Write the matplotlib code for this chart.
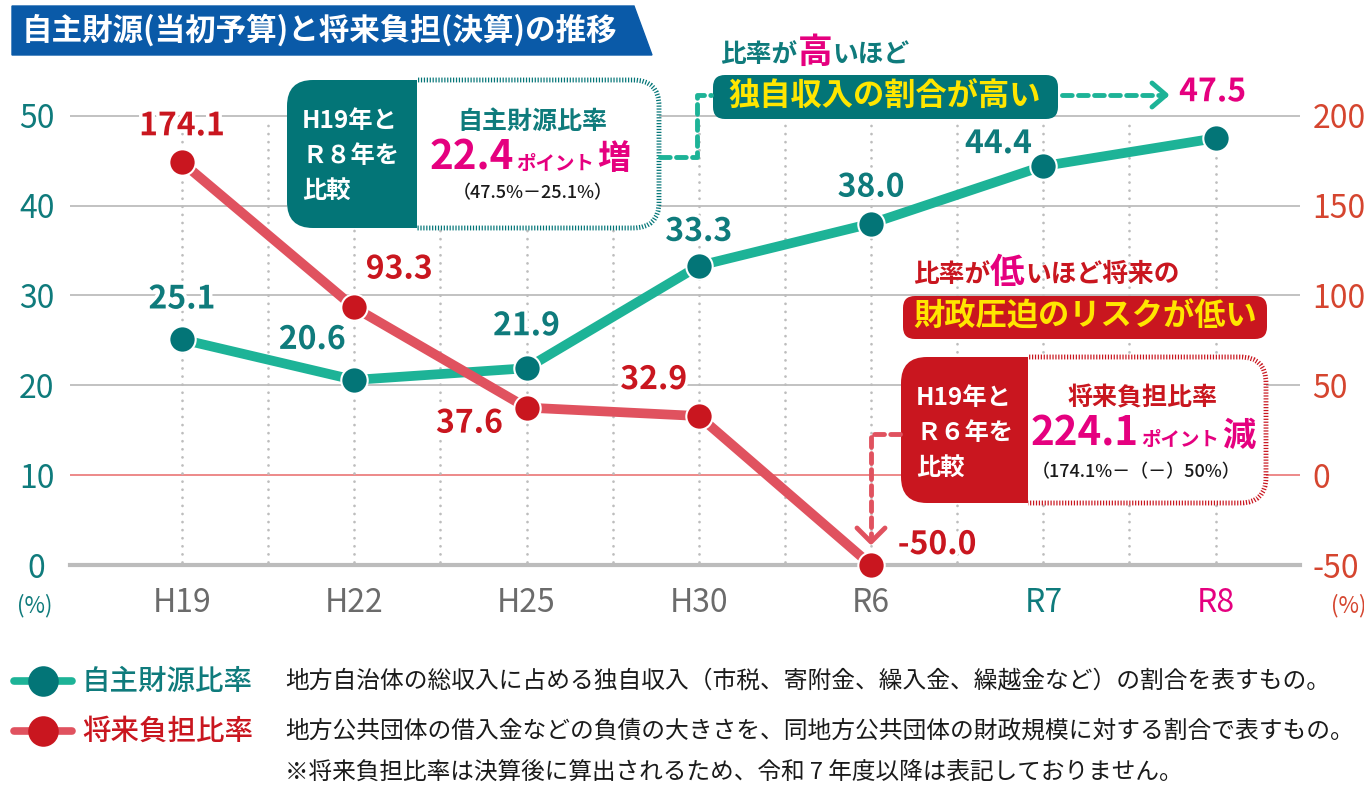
import matplotlib.pyplot as plt
import matplotlib.patheffects as pe
from matplotlib.patches import FancyBboxPatch, Rectangle, Polygon
from matplotlib.offsetbox import TextArea, HPacker, AnnotationBbox
import numpy as np

plt.rcParams['font.family'] = ['Noto Sans CJK JP', 'DejaVu Sans']

# data
years = ['H19', 'H22', 'H25', 'H30', 'R6', 'R7', 'R8']
own_ratio = [25.1, 20.6, 21.9, 33.3, 38.0, 44.4, 47.5]
burden_years = ['H19', 'H22', 'H25', 'H30', 'R6']
burden_ratio = [174.1, 93.3, 37.6, 32.9, -50.0]
left_ticks = [0, 10, 20, 30, 40, 50]
right_ticks = [-50, 0, 50, 100, 150, 200]

title = '自主財源(当初予算)と将来負担(決算)の推移'
legend_names = ['自主財源比率', '将来負担比率']
legend_notes = [
    '地方自治体の総収入に占める独自収入（市税、寄附金、繰入金、繰越金など）の割合を表すもの。',
    '地方公共団体の借入金などの負債の大きさを、同地方公共団体の財政規模に対する割合で表すもの。',
]
footnote = '※将来負担比率は決算後に算出されるため、令和 7 年度以降は表記しておりません。'

# colours
TEAL = '#037577'
TEAL_LINE = '#1db397'
TEAL_TXT = '#0f7b7c'
RED = '#c9161f'
RED_LINE = '#e0525f'
RED_TICK = '#d5452f'
MAGENTA = '#e5007f'
YELLOW = '#ffe600'
GRAY = '#bdbdbd'

# label offsets in pixels (style only)
own_offsets = [(0, 40), (-42, 40), (0, 42), (0, 34), (0, 36), (-45, 22), (-3, 46)]
burden_offsets = [(0, 36), (45, 38), (-57, -16), (-45, 36), (66, 20)]

W, H = 1364, 785
fig = plt.figure(figsize=(W / 100, H / 100), dpi=100)

ax = fig.add_axes([70 / W, 1 - 565 / H, 1230 / W, 469 / H])
ymax = 52.2
ax.set_ylim(0, ymax)
ax.set_xlim(-0.65, 6.49)
for s in ax.spines.values():
    s.set_visible(False)

xi = np.arange(len(years))
xb = np.array([years.index(y) for y in burden_years])

# grid
for t in left_ticks[1:]:
    ax.axhline(t, color='#ec8080' if t == 10 else GRAY, lw=1.3, zorder=1)
ax.axhline(0, color='#bcbcbc', lw=3, zorder=1, clip_on=False)
for xv in np.arange(0, len(years) - 0.99, 0.5):
    ax.plot([xv, xv], [0.3, 49.3], color=GRAY, lw=2,
            ls=(0, (0.01, 2.9)), dash_capstyle='round', zorder=1)

ax.plot(xi, own_ratio, color=TEAL_LINE, lw=7, zorder=3)
ax.plot(xi, own_ratio, 'o', ms=19, mfc=TEAL, mec='white', mew=1.5,
        zorder=4, clip_on=False)

ax.set_yticks(left_ticks)
ax.tick_params(axis='y', length=0, pad=24, labelsize=23, labelcolor=TEAL_TXT)
for lab in ax.get_yticklabels():
    lab.set_horizontalalignment('center')
ax.set_xticks(xi, years)
ax.tick_params(axis='x', length=0, pad=16, labelsize=23, labelcolor='#6b6b6b')
xl = ax.get_xticklabels()
xl[-2].set_color(TEAL_TXT)
xl[-1].set_color(MAGENTA)

stroke = [pe.withStroke(linewidth=5, foreground='white')]
for i, v in enumerate(own_ratio):
    c = MAGENTA if i == len(own_ratio) - 1 else TEAL_TXT
    ax.annotate(f'{v:.1f}', (xi[i], v), xytext=own_offsets[i],
                textcoords='offset pixels', ha='center', va='center',
                fontsize=23, weight='bold', color=c, path_effects=stroke,
                zorder=5)

ax2 = ax.twinx()
ax2.set_ylim(5 * 0 - 50, 5 * ymax - 50)
for s in ax2.spines.values():
    s.set_visible(False)
ax2.plot(xb, burden_ratio, color=RED_LINE, lw=7, zorder=3)
ax2.plot(xb, burden_ratio, 'o', ms=19, mfc=RED, mec='white', mew=1.5,
         zorder=4, clip_on=False)
ax2.set_yticks(right_ticks, [str(t) for t in right_ticks])
ax2.tick_params(axis='y', length=0, pad=9, labelsize=23, labelcolor=RED_TICK)
for i, v in enumerate(burden_ratio):
    ax2.annotate(f'{v:.1f}', (xb[i], v), xytext=burden_offsets[i],
                 textcoords='offset pixels', ha='center', va='center',
                 fontsize=23, weight='bold', color=RED, path_effects=stroke,
                 zorder=5)

# overlay in pixel coordinates for decorations
ov = fig.add_axes([0, 0, 1, 1])
ov.set_xlim(0, W)
ov.set_ylim(H, 0)
ov.axis('off')

ov.text(35, 606, '(%)', color=TEAL_TXT, fontsize=16, ha='center', va='center')
ov.text(1349, 606, '(%)', color=RED_TICK, fontsize=16, ha='center', va='center')

ov.add_patch(Polygon([(12, 6), (634, 6), (652, 55), (12, 55)], color='#0a5aa8'))
ov.text(22, 30, title, color='white', fontsize=22, weight='bold', va='center')


def rich(parts, xy, sep=2):
    boxes = [TextArea(s, textprops=dict(color=c, fontsize=fs, weight='bold'))
             for s, c, fs in parts]
    pack = HPacker(children=boxes, align='baseline', pad=0, sep=sep)
    ab = AnnotationBbox(pack, xy, xycoords='data', frameon=False,
                        box_alignment=(0.5, 0.5), pad=0)
    ov.add_artist(ab)


def compare_box(x0, y0, w, h, split, color, lines):
    style = 'round,pad=0,rounding_size=26'
    ov.add_patch(FancyBboxPatch((x0, y0), w, h, boxstyle=style,
                                fc='white', ec='none'))
    left = FancyBboxPatch((x0, y0), w, h, boxstyle=style, fc=color, ec='none')
    ov.add_patch(left)
    left.set_clip_path(Rectangle((x0, y0), split - x0, h, transform=ov.transData))
    edge = FancyBboxPatch((x0, y0), w, h, boxstyle=style, fc='none', ec=color,
                          lw=3.5, ls=(0, (0.25, 0.35)))
    ov.add_patch(edge)
    edge.set_clip_path(Rectangle((split, y0 - 10), w, h + 20, transform=ov.transData))
    for k, s in enumerate(lines):
        ov.text(x0 + 15, y0 + 41 + k * 35, s, color='white', fontsize=17.5,
                weight='bold', va='center')


# own-revenue comparison box
compare_box(287, 80, 372, 148, 417, TEAL, ['H19年と', 'Ｒ８年を', '比較'])
ov.text(532, 122, '自主財源比率', color=TEAL_TXT, fontsize=18, weight='bold',
        ha='center', va='center')
rich([('22.4', MAGENTA, 29), ('ポイント', MAGENTA, 14), ('増', MAGENTA, 24)],
     (530, 158))
ov.text(533, 193, '（47.5%－25.1%）', color='#1a1a1a', fontsize=13,
        weight='medium', ha='center', va='center')

# burden comparison box
compare_box(901, 357, 365, 146, 1028, RED, ['H19年と', 'Ｒ６年を', '比較'])
ov.text(1143, 398, '将来負担比率', color=RED, fontsize=18, weight='bold',
        ha='center', va='center')
rich([('224.1', MAGENTA, 29), ('ポイント', MAGENTA, 14), ('減', MAGENTA, 24)],
     (1143, 434))
ov.text(1136, 472, '（174.1%－（－）50%）', color='#1a1a1a', fontsize=13,
        weight='medium', ha='center', va='center')

# captions
rich([('比率が', TEAL_TXT, 18.5), ('高', MAGENTA, 25), ('いほど', TEAL_TXT, 18.5)],
     (815, 52), sep=0)
ov.add_patch(FancyBboxPatch((713, 75), 345, 44, boxstyle='round,pad=0,rounding_size=12',
                            fc=TEAL, ec='none'))
ov.text(885, 97, '独自収入の割合が高い', color=YELLOW, fontsize=22.5, weight='bold',
        ha='center', va='center')

rich([('比率が', RED, 18.5), ('低', MAGENTA, 25), ('いほど将来の', RED, 18.5)],
     (1046, 272), sep=0)
ov.add_patch(FancyBboxPatch((903, 296), 364, 43, boxstyle='round,pad=0,rounding_size=12',
                            fc=RED, ec='none'))
ov.text(1085, 317, '財政圧迫のリスクが低い', color=YELLOW, fontsize=22.5,
        weight='bold', ha='center', va='center')

# connectors
dash = dict(lw=3.5, ls=(0, (2.0, 1.3)), dash_capstyle='round')
ov.plot([660, 697, 697, 711], [157, 157, 95, 95], color=TEAL_LINE, **dash)
ov.plot([1062, 1165], [95, 95], color=TEAL_LINE, **dash)
ov.plot([1152, 1166, 1152], [83, 95, 107], color=TEAL_LINE, lw=3.5,
        solid_capstyle='round', solid_joinstyle='round')
ov.plot([900, 871, 871], [434, 434, 540], color=RED_LINE, **dash)
ov.plot([857, 871, 885], [528, 542, 528], color=RED_LINE, lw=3.5,
        solid_capstyle='round', solid_joinstyle='round')

# legend
rows = [(681, TEAL_LINE, TEAL, TEAL_TXT), (731, RED_LINE, RED, RED)]
for (y, lc, mc, tc), name, note in zip(rows, legend_names, legend_notes):
    ov.plot([14, 72], [y, y], color=lc, lw=5.5, solid_capstyle='round')
    ov.plot([43], [y], 'o', ms=22, mfc=mc, mec='none')
    ov.text(82, y, name, color=tc, fontsize=20.5, weight='medium', va='center')
    ov.text(285, y, note, color='#1a1a1a', fontsize=17.1, va='center')
ov.text(285, 772, footnote, color='#1a1a1a', fontsize=17, va='center')

fig.savefig('out.png', dpi=100)
